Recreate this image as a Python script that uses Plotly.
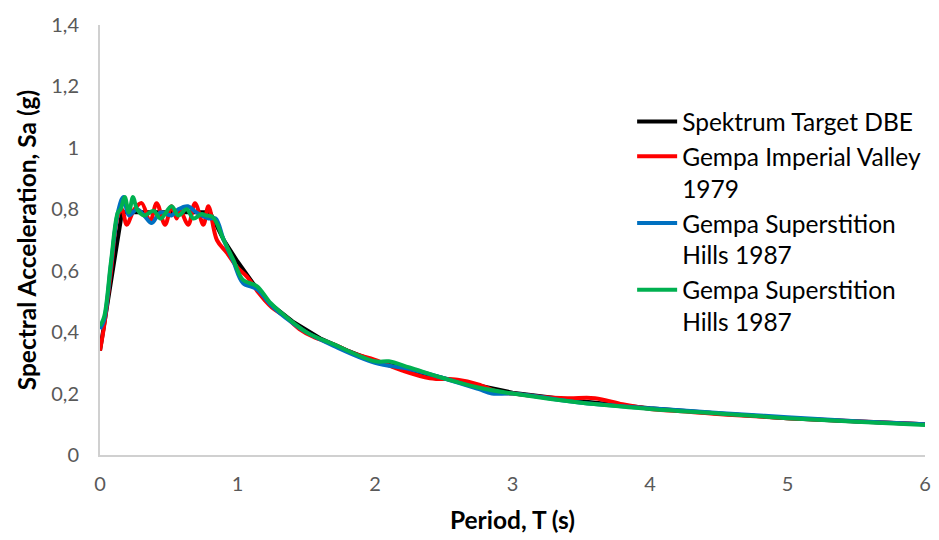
import plotly.graph_objects as go

# Target design spectrum (DBE)
t_target = [0.0, 0.16, 0.8, 0.9, 1.0, 1.2, 1.4, 1.6, 1.8, 2.0, 2.5, 3.0, 3.5, 4.0, 4.5, 5.0, 5.5, 6.0]
sa_target = [0.34, 0.79, 0.79, 0.70, 0.63, 0.505, 0.435, 0.38, 0.34, 0.305, 0.25, 0.203,
             0.175, 0.152, 0.135, 0.120, 0.109, 0.100]

# Imperial Valley 1979 (matched)
t_iv = [0.0, 0.03, 0.08, 0.13, 0.16, 0.194, 0.25, 0.303, 0.364, 0.412, 0.473, 0.521, 0.558,
        0.58, 0.642, 0.691, 0.752, 0.788, 0.85, 0.92, 1.0, 1.07, 1.15, 1.25, 1.35, 1.45, 1.55,
        1.7, 1.85, 2.0, 2.2, 2.4, 2.6, 2.75, 2.9, 3.0, 3.2, 3.4, 3.6, 3.8, 4.0, 4.3, 4.6, 5.0,
        5.5, 6.0]
sa_iv = [0.34, 0.42, 0.60, 0.78, 0.80, 0.75, 0.80, 0.82, 0.76, 0.82, 0.75, 0.81, 0.77,
         0.80, 0.75, 0.82, 0.75, 0.81, 0.70, 0.66, 0.61, 0.58, 0.53, 0.48, 0.45, 0.41, 0.385,
         0.36, 0.33, 0.31, 0.275, 0.25, 0.245, 0.23, 0.205, 0.20, 0.19, 0.185, 0.185, 0.165,
         0.15, 0.14, 0.13, 0.12, 0.11, 0.10]

# Superstition Hills 1987 (blue)
t_sh1 = [0.0, 0.03, 0.08, 0.13, 0.17, 0.21, 0.27, 0.32, 0.376, 0.44, 0.52, 0.57, 0.64,
         0.70, 0.79, 0.84, 0.90, 0.97, 1.04, 1.14, 1.24, 1.3, 1.4, 1.5, 1.7, 2.0, 2.25, 2.5,
         2.75, 2.85, 3.0, 3.5, 4.0, 4.5, 5.0, 5.5, 6.0]
sa_sh1 = [0.41, 0.44, 0.62, 0.79, 0.84, 0.78, 0.80, 0.78, 0.755, 0.79, 0.78, 0.80, 0.81,
          0.79, 0.77, 0.77, 0.70, 0.63, 0.56, 0.54, 0.49, 0.465, 0.43, 0.40, 0.355, 0.30,
          0.28, 0.25, 0.215, 0.20, 0.20, 0.17, 0.152, 0.137, 0.123, 0.11, 0.10]

# Superstition Hills 1987 (green)
t_sh2 = [0.0, 0.03, 0.08, 0.13, 0.15, 0.18, 0.21, 0.24, 0.27, 0.32, 0.39, 0.44, 0.52,
         0.57, 0.63, 0.68, 0.74, 0.77, 0.82, 0.90, 0.97, 1.04, 1.14, 1.24, 1.3, 1.5, 1.7,
         2.0, 2.1, 2.25, 2.5, 2.75, 3.0, 3.5, 4.0, 4.5, 5.0, 5.5, 6.0]
sa_sh2 = [0.42, 0.45, 0.63, 0.79, 0.80, 0.84, 0.79, 0.84, 0.80, 0.78, 0.795, 0.77, 0.81,
          0.78, 0.80, 0.77, 0.785, 0.78, 0.775, 0.70, 0.635, 0.57, 0.55, 0.495, 0.47, 0.40,
          0.36, 0.305, 0.305, 0.285, 0.25, 0.22, 0.20, 0.17, 0.15, 0.135, 0.12, 0.108, 0.098]

series = [
    ("Spektrum Target DBE", t_target, sa_target, "#000000", "linear"),
    ("Gempa Imperial Valley<br>1979", t_iv, sa_iv, "#FF0000", "spline"),
    ("Gempa Superstition<br>Hills 1987", t_sh1, sa_sh1, "#0070C0", "spline"),
    ("Gempa Superstition<br>Hills 1987", t_sh2, sa_sh2, "#00B050", "spline"),
]

fig = go.Figure()
for i, (name, t, sa, color, shape) in enumerate(series):
    fig.add_trace(
        go.Scatter(
            x=t,
            y=sa,
            mode="lines",
            name=name,
            legendgroup=f"g{i}",
            line=dict(color=color, width=4, shape=shape, smoothing=1.0),
        )
    )

axis_font = dict(family="Lato, Open Sans, sans-serif", size=20, color="#595959")
title_font = dict(family="Lato, Open Sans, sans-serif", size=24.5, color="#000000")

fig.update_xaxes(
    range=[0, 6],
    dtick=1,
    showgrid=False,
    zeroline=False,
    showline=True,
    linecolor="#D0D0D0",
    linewidth=2,
    ticks="",
    automargin=False,
    ticklabelstandoff=10,
    tickfont=axis_font,
    title=dict(text="<b>Period, T (s)</b>", font=title_font, standoff=18),
)
fig.update_yaxes(
    range=[0, 1.4],
    dtick=0.2,
    showgrid=False,
    zeroline=False,
    showline=True,
    linecolor="#D0D0D0",
    linewidth=2,
    ticks="",
    automargin=False,
    ticklabelstandoff=15,
    tickfont=axis_font,
    title=dict(text="<b>Spectral Acceleration, Sa (g)</b>", font=title_font, standoff=8),
)

# page body has an 8px margin, so the margins are offset to place the plot area
fig.update_layout(
    width=939,
    height=540,
    separators=",.",
    plot_bgcolor="white",
    paper_bgcolor="white",
    margin=dict(l=92, r=22, t=17, b=93),
    legend=dict(
        x=0.645,
        y=0.828,
        xanchor="left",
        yanchor="top",
        valign="top",
        bgcolor="rgba(0,0,0,0)",
        font=dict(family="Lato, Open Sans, sans-serif", size=24.5, color="#000000"),
        itemwidth=40,
        tracegroupgap=0,
    ),
)

fig.write_html("out.html")
